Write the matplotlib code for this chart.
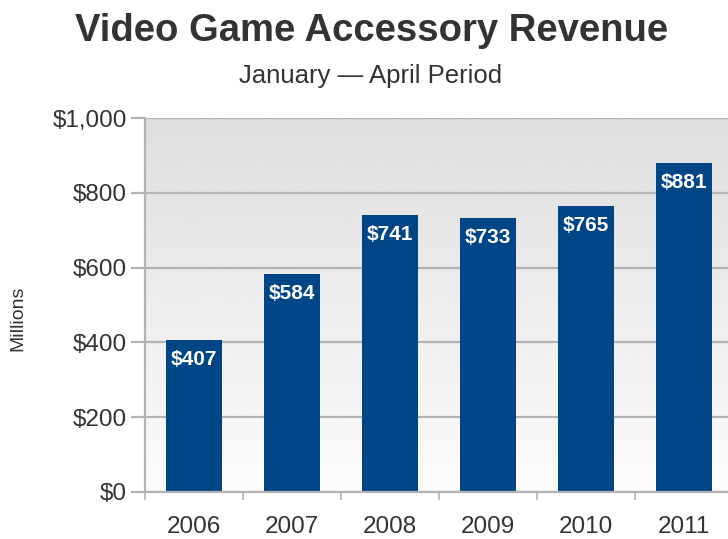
import numpy as np
import matplotlib
matplotlib.use("Agg")
import matplotlib.pyplot as plt
from matplotlib.ticker import FuncFormatter, MultipleLocator

years = ["2006", "2007", "2008", "2009", "2010", "2011"]
revenue = [407, 584, 741, 733, 765, 881]   # millions of dollars, Jan-Apr

plt.rcParams["font.family"] = ["Liberation Sans", "DejaVu Sans"]

W, H = 728, 539
fig = plt.figure(figsize=(W / 100, H / 100), dpi=100)
# plot area runs slightly past the right edge of the canvas
ax = fig.add_axes([145 / W, 1 - 492 / H, 588 / W, 374 / H])

x = np.arange(len(years))
ax.set_xlim(-0.5, len(years) - 0.5)
ax.set_ylim(0, 1000)

# soft vertical gradient behind the bars, grey at the top fading to white
grad = np.linspace(0.87, 0.99, 256).reshape(-1, 1)
ax.imshow(grad, extent=[-0.5, len(years) - 0.5, 0, 1000], origin="upper", aspect="auto",
          cmap="gray", vmin=0, vmax=1, zorder=0, interpolation="bicubic")

ax.yaxis.set_major_locator(MultipleLocator(200))
ax.grid(axis="y", color="#b3b3b3", lw=1.6, zorder=1)
ax.set_axisbelow(True)

bars = ax.bar(x, revenue, width=0.58, color="#004586", zorder=2)
for xi, v in zip(x, revenue):
    ax.text(xi, v - 28, f"${v}", ha="center", va="top", color="white",
            fontsize=15, fontweight="bold", zorder=3)

ax.yaxis.set_major_formatter(FuncFormatter(lambda v, p: f"${v:,.0f}"))
ax.set_xticks(x)
ax.set_xticklabels(years)
ax.set_xticks(np.arange(-0.5, len(years), 1.0), minor=True)
ax.tick_params(axis="x", which="major", length=0, pad=17, labelsize=17.5, labelcolor="#333333")
ax.tick_params(axis="x", which="minor", length=6, width=1.2, color="#b3b3b3")
ax.tick_params(axis="y", length=10, width=1.6, color="#b3b3b3", labelsize=17.5,
               labelcolor="#333333", pad=3)

for s in ["top", "right"]:
    ax.spines[s].set_visible(False)
for s in ["left", "bottom"]:
    ax.spines[s].set_color("#b3b3b3")
    ax.spines[s].set_linewidth(1.6)

fig.text(18 / W, 1 - 318 / H, "Millions", rotation=90, ha="center", va="center",
         fontsize=14, color="#333333")
fig.text(372 / W, 1 - 31 / H, "Video Game Accessory Revenue", ha="center", va="center",
         fontsize=27.5, fontweight="bold", color="#333333")
fig.text(371 / W, 1 - 76 / H, "January \u2014 April Period", ha="center", va="center",
         fontsize=18.5, color="#333333")

fig.savefig("out.png", dpi=100)
